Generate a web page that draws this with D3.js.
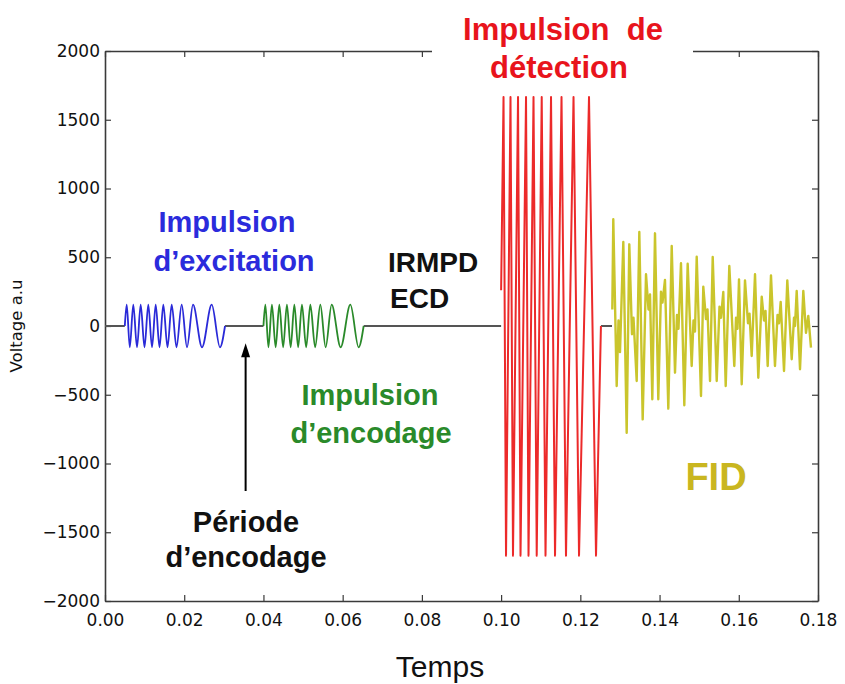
<!DOCTYPE html>
<html><head><meta charset="utf-8">
<script src="https://cdn.jsdelivr.net/npm/d3@7"></script>
<style>body{margin:0;background:#fff} svg{display:block}</style>
</head><body>
<svg id="c" width="845" height="684"></svg>
<script>
// ---------- data ----------
const xTicks = [0, 0.02, 0.04, 0.06, 0.08, 0.10, 0.12, 0.14, 0.16, 0.18];
const yTicks = [-2000, -1500, -1000, -500, 0, 500, 1000, 1500, 2000];

const baselineStarts = [0, 0.0303, 0.0653, 0.1252];
const baselineEnds   = [0.005, 0.040, 0.100, 0.128];

const excitationTimes  = [0.00500, 0.00548, 0.00626, 0.00714, 0.00808, 0.00901, 0.00997, 0.01093, 0.01187, 0.01280, 0.01376, 0.01472, 0.01578, 0.01684, 0.01805, 0.01936, 0.02070, 0.02222, 0.02449, 0.02694, 0.02903, 0.03030];
const excitationValues = [0, 155, -155, 155, -155, 155, -155, 155, -155, 155, -155, 155, -155, 155, -155, 155, -155, 155, -155, 155, -155, 0];

const encodingTimes  = [0.04000, 0.04048, 0.04126, 0.04214, 0.04308, 0.04401, 0.04497, 0.04593, 0.04687, 0.04780, 0.04876, 0.04972, 0.05078, 0.05184, 0.05305, 0.05436, 0.05570, 0.05722, 0.05949, 0.06194, 0.06403, 0.06530];
const encodingValues = [0, 155, -155, 155, -155, 155, -155, 155, -155, 155, -155, 155, -155, 155, -155, 155, -155, 155, -155, 155, -155, 0];

const detectionTimes  = [0.1000, 0.10061, 0.10124, 0.10237, 0.10300, 0.10427, 0.10490, 0.10629, 0.10692, 0.10818, 0.10899, 0.11025, 0.11121, 0.11260, 0.11361, 0.11525, 0.11638, 0.11828, 0.11967, 0.12219, 0.12396, 0.1252];
const detectionValues = [260, 1665, -1670, 1665, -1670, 1665, -1670, 1665, -1670, 1665, -1670, 1665, -1670, 1665, -1670, 1665, -1670, 1665, -1670, 1665, -1670, 0];

const fidTimes = [0.12807, 0.12832, 0.12918, 0.12963, 0.13001, 0.13085, 0.13170, 0.13236, 0.13304, 0.13342, 0.13423, 0.13489, 0.13574, 0.13658, 0.13721, 0.13759, 0.13817, 0.13885, 0.13968, 0.14036, 0.14074, 0.14137, 0.14221, 0.14307, 0.14390, 0.14440, 0.14478, 0.14541, 0.14625, 0.14710, 0.14811, 0.14857, 0.14895, 0.14938, 0.15046, 0.15104, 0.15172, 0.15210, 0.15274, 0.15342, 0.15443, 0.15513, 0.15551, 0.15609, 0.15670, 0.15761, 0.15887, 0.15930, 0.15968, 0.16006, 0.16074, 0.16157, 0.16233, 0.16271, 0.16326, 0.16410, 0.16493, 0.16579, 0.16637, 0.16675, 0.16730, 0.16813, 0.16914, 0.16978, 0.17016, 0.17058, 0.17142, 0.17225, 0.17336, 0.17394, 0.17419, 0.17462, 0.17546, 0.17629, 0.17697, 0.17755, 0.17823];
const fidValues = [120, 776, -436, 40, -190, 611, -776, 594, -60, 60, -400, 684, -679, 376, 120, 230, -533, 674, -533, 250, 170, 335, -601, 582, -339, 80, -20, 456, -577, 453, -291, 40, -40, 504, -509, 286, 50, 120, -400, 502, -400, 140, 60, 247, -436, 436, -291, 60, -20, 339, -424, 332, 20, 90, -218, 376, -376, 213, 40, 110, -291, 368, -291, 80, 20, 175, -327, 332, -242, 60, 0, 255, -315, 255, -50, 73, -158];

const arrowTime = 0.0355, arrowFrom = -1200, arrowTo = -125;

// ---------- drawing ----------
const svg = d3.select("#c");
const x = d3.scaleLinear().domain([0, 0.18]).range([105, 818]);
const y = d3.scaleLinear().domain([-2000, 2000]).range([601, 51]);
const spine = "#3a3a3a";
const fmtY = d => d < 0 ? "\u2212" + Math.abs(d) : String(d);

function styleAxis(g, labels) {
  g.select(".domain").attr("stroke", spine).attr("stroke-width", 1.6);
  g.selectAll(".tick line").attr("stroke", spine).attr("stroke-width", 1.2);
  g.selectAll(".tick text").attr("fill", "#111")
    .style("font-family", "'DejaVu Sans', sans-serif").style("font-size", "17px");
  if (!labels) g.selectAll(".tick text").remove();
}

svg.append("g").attr("transform", `translate(0,601)`)
  .call(d3.axisBottom(x).tickValues(xTicks).tickFormat(d3.format(".2f")).tickSizeInner(-6).tickSizeOuter(0).tickPadding(13))
  .call(g => styleAxis(g, true));
svg.append("g").attr("transform", `translate(105,0)`)
  .call(d3.axisLeft(y).tickValues(yTicks).tickFormat(fmtY).tickSizeInner(-6).tickSizeOuter(0).tickPadding(5))
  .call(g => styleAxis(g, true));
svg.append("g").attr("transform", `translate(0,51)`)
  .call(d3.axisTop(x).tickValues(xTicks).tickFormat("").tickSizeInner(-6).tickSizeOuter(0))
  .call(g => styleAxis(g, false));
svg.append("g").attr("transform", `translate(818,0)`)
  .call(d3.axisRight(y).tickValues(yTicks).tickFormat("").tickSizeInner(-6).tickSizeOuter(0))
  .call(g => styleAxis(g, false));

// baseline pieces
const baseG = svg.append("g");
baselineStarts.forEach((s, i) => {
  baseG.append("line").attr("x1", x(s)).attr("x2", x(baselineEnds[i]))
    .attr("y1", y(0)).attr("y2", y(0)).attr("stroke", "#555").attr("stroke-width", 2);
});

function series(times, values, color, width, curve) {
  const pts = times.map((t, i) => [t, values[i]]);
  svg.append("path").datum(pts)
    .attr("fill", "none").attr("stroke", color).attr("stroke-width", width)
    .attr("stroke-linejoin", "round")
    .attr("d", d3.line().x(d => x(d[0])).y(d => y(d[1])).curve(curve));
}
series(excitationTimes, excitationValues, "#2a2ad8", 1.8, d3.curveMonotoneX);
series(encodingTimes, encodingValues, "#2a8a2a", 1.8, d3.curveMonotoneX);
series(detectionTimes, detectionValues, "#ec2a2a", 2, d3.curveLinear);
series(fidTimes, fidValues, "#cac52c", 2.4, d3.curveLinear);

// arrow
const ax = x(arrowTime);
svg.append("line").attr("x1", ax).attr("x2", ax).attr("y1", y(arrowFrom)).attr("y2", y(arrowTo) + 10)
  .attr("stroke", "#000").attr("stroke-width", 2);
svg.append("path").attr("d", `M${ax},${y(arrowTo)} L${ax - 4.5},${y(arrowTo) + 14} L${ax + 4.5},${y(arrowTo) + 14} Z`).attr("fill", "#000");

// texts
const font = "'Liberation Sans', Arial, sans-serif";
function txt(s, px, py, size, color, anchor, weight) {
  return svg.append("text").attr("x", px).attr("y", py).text(s)
    .attr("fill", color).attr("text-anchor", anchor || "middle")
    .style("font-family", font).style("font-size", size + "px").style("font-weight", weight || "bold");
}
// title box over top spine
svg.append("rect").attr("x", 432).attr("y", 0).attr("width", 261).attr("height", 57).attr("fill", "#fff");
txt("Impulsion\u00a0 de", 563, 40, 31, "#e8141c");
txt("d\u00e9tection", 559, 78, 31, "#e8141c");

txt("Impulsion", 227, 232, 29, "#2b2bdc");
txt("d\u2019excitation", 234, 271, 29, "#2b2bdc");
txt("IRMPD", 388, 272, 28, "#111", "start");
txt("ECD", 390, 308, 28, "#111", "start");
txt("Impulsion", 370, 405, 29, "#2a8a2a");
txt("d\u2019encodage", 371, 443, 29, "#2a8a2a");
txt("P\u00e9riode", 246, 532, 29, "#111");
txt("d\u2019encodage", 246, 567, 29, "#111");
txt("FID", 716, 490, 38, "#c9b620");

txt("Temps", 440, 677, 30, "#111", "middle", "normal");
svg.append("text").attr("transform", "translate(22,326) rotate(-90)").attr("text-anchor", "middle")
  .text("Voltage a.u").attr("fill", "#111")
  .style("font-family", "'DejaVu Sans', sans-serif").style("font-size", "16.5px");
</script>
</body></html>
